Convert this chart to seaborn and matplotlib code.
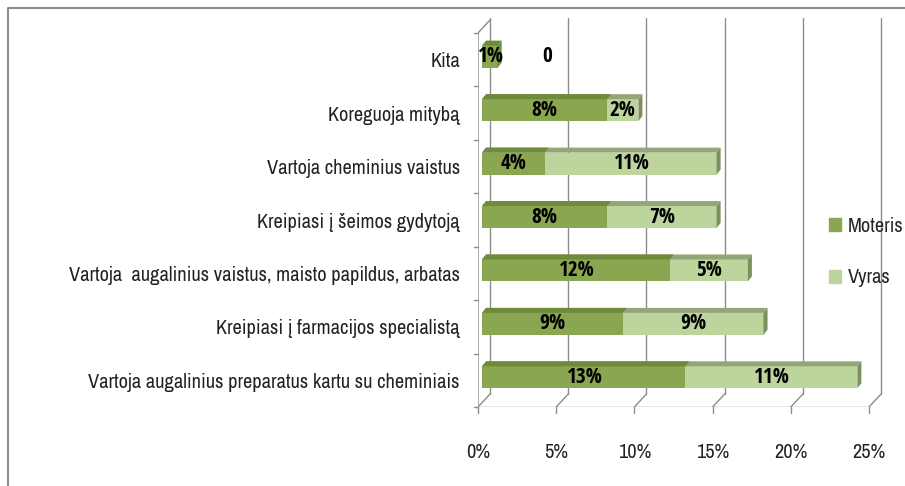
import numpy as np
import pandas as pd
import matplotlib
matplotlib.use("Agg")
import matplotlib.pyplot as plt
import seaborn as sns
from matplotlib import font_manager
from matplotlib.patches import Polygon, Patch
from matplotlib.lines import Line2D

# duomenys (is paveikslo)
categories = [
    "Kita",
    "Koreguoja mitybą",
    "Vartoja cheminius vaistus",
    "Kreipiasi į šeimos gydytoją",
    "Vartoja  augalinius vaistus, maisto papildus, arbatas",
    "Kreipiasi į farmacijos specialistą",
    "Vartoja augalinius preparatus kartu su cheminiais",
]
moteris = [1, 8, 4, 8, 12, 9, 13]
vyras = [0, 2, 11, 7, 5, 9, 11]
x_ticks = [0, 5, 10, 15, 20, 25]
x_tick_labels = ["0%", "5%", "10%", "15%", "20%", "25%"]
series_names = ["Moteris", "Vyras"]

df = pd.DataFrame({"kategorija": categories, "Moteris": moteris, "Vyras": vyras})
df["viso"] = df["Moteris"] + df["Vyras"]

sns.set_theme(style="white")
# narrow fonts (regular + bold) if there are some, else Liberation Sans
ttf = font_manager.fontManager.ttflist
regular = {f.name for f in ttf if f.style == "normal" and f.weight in (400, "normal", "regular", "400")}
bold = {f.name for f in ttf if f.style == "normal" and f.weight in (700, "bold", "700")}
cands = ["Open Sans Condensed", "Archivo Narrow", "Asap Condensed",
         "Liberation Sans Narrow", "Liberation Sans"]
font = next((c for c in cands if c in regular), "DejaVu Sans")
font_b = next((c for c in cands if c in bold), "DejaVu Sans")
plt.rcParams["font.family"] = [font, "DejaVu Sans"]
bfam = [font_b, "DejaVu Sans"]

c_mot, c_mot_top = "#8aa650", "#6e8a3b"
c_vyr, c_vyr_top, c_vyr_side = "#bdd49c", "#94a57a", "#7d8f60"
grid_c = "#8c8c8c"

fig = plt.figure(figsize=(9.05, 4.86), dpi=100)
ax = fig.add_axes([478 / 905, 79 / 486, 406 / 905, 389 / 486])

# font sizes so that text widths are like the reference
r = fig.canvas.get_renderer()
probe = fig.text(0, 0, categories[-1], fontsize=14)
fs = 14 * 368 / probe.get_window_extent(r).width
probe.remove()
probe = fig.text(0, 0, "13%", fontsize=14, fontweight="bold", family=bfam)
fs_val = 14 * 36 / probe.get_window_extent(r).width
probe.remove()

# stacked: total first (Vyras colour), then Moteris over it
sns.barplot(data=df, y="kategorija", x="viso", color=c_vyr, orient="h", width=0.41,
            saturation=1, errorbar=None, ax=ax, zorder=3)
sns.barplot(data=df, y="kategorija", x="Moteris", color=c_mot, orient="h", width=0.41,
            saturation=1, errorbar=None, ax=ax, zorder=4)

xmax = 406 / 15.64
ax.set_xlim(0, xmax)
ax.set_ylim(6.5, -0.5 - 15 / 53.4)

# 3D-ish offsets (data units)
bx, by = 0.256, -0.056      # bar front shift
ddx, ddy = 0.256, -0.094    # bar depth
gdx, gdy = 0.77, -0.243     # wall depth

n = len(categories)
patches = ax.patches
tot_bars = patches[:n]
mot_bars = patches[n:2 * n]
for p in patches:
    p.set_x(p.get_x() + bx)
    p.set_y(p.get_y() + by)
    p.set_linewidth(0)

def top_face(p, color, z):
    x0, y0, w = p.get_x(), p.get_y(), p.get_width()
    pts = [(x0, y0), (x0 + w, y0), (x0 + w + ddx, y0 + ddy), (x0 + ddx, y0 + ddy)]
    ax.add_patch(Polygon(pts, closed=True, color=color, lw=0, zorder=z))

for i, (pt, pm) in enumerate(zip(tot_bars, mot_bars)):
    top_face(pt, c_vyr_top, 3.5)
    top_face(pm, c_mot_top, 4.5)
    x1 = pt.get_x() + pt.get_width()
    y0, y1 = pt.get_y(), pt.get_y() + pt.get_height()
    side_c = c_vyr_side if vyras[i] > 0 else c_mot_top
    ax.add_patch(Polygon([(x1, y0), (x1, y1), (x1 + ddx, y1 + ddy), (x1 + ddx, y0 + ddy)],
                         closed=True, color=side_c, lw=0, zorder=4.6))

# walls / gridlines
y_bot = n - 0.5
y_top = -0.5 - 15 / 53.4
for t in x_ticks:
    ax.plot([t + gdx, t + gdx], [y_top, y_bot + gdy], color=grid_c, lw=1, zorder=1)
    ax.plot([t, t + gdx], [y_bot, y_bot + gdy], color=grid_c, lw=1, zorder=1)
    ax.plot([t, t], [y_bot, y_bot + 0.11], color=grid_c, lw=1, clip_on=False)
ax.plot([0, x_ticks[-1]], [y_bot, y_bot], color=grid_c, lw=1, zorder=2)
ax.plot([0, 0, gdx], [y_bot, -0.5, -0.5 + gdy], color=grid_c, lw=1, zorder=2)
for k in range(n + 1):
    ax.plot([-0.26, 0], [k - 0.5, k - 0.5], color=grid_c, lw=1, clip_on=False)

# value labels
for i in range(n):
    y = i + by
    ax.text(bx + moteris[i] / 2, y, f"{moteris[i]}%", ha="center", va="center",
            fontsize=fs_val, fontweight="bold", family=bfam, color="black", zorder=6)
    if vyras[i] > 0:
        ax.text(bx + moteris[i] + vyras[i] / 2, y, f"{vyras[i]}%", ha="center", va="center",
                fontsize=fs_val, fontweight="bold", family=bfam, color="black", zorder=6)
    else:
        ax.annotate("0", (bx + moteris[i], y), xytext=(36, 0), textcoords="offset points",
                    ha="center", va="center", fontsize=fs_val, fontweight="bold",
                    family=bfam, color="black", zorder=6)

ax.set_xticks(x_ticks)
ax.set_xticklabels(x_tick_labels, fontsize=fs, color="#222222")
ax.set_yticks(range(n))
ax.set_yticklabels(categories, fontsize=fs, color="#222222")
ax.tick_params(axis="x", length=0, pad=26)
ax.tick_params(axis="y", length=0, pad=13)
ax.set_xlabel("")
ax.set_ylabel("")
for s in ax.spines.values():
    s.set_visible(False)
ax.patch.set_alpha(0)

handles = [Patch(color=c_mot), Patch(color=c_vyr)]
fig.legend(handles, series_names, loc="center left", bbox_to_anchor=(819 / 905, 1 - 252 / 486),
           bbox_transform=fig.transFigure, frameon=False, fontsize=fs, handlelength=0.6,
           handleheight=0.6, handletextpad=0.3, labelspacing=1.6, borderpad=0)

# outer frame (left + top only)
fig.add_artist(Line2D([8 / 905, 8 / 905, 1], [0, 1 - 8 / 486, 1 - 8 / 486],
                      transform=fig.transFigure, color=grid_c, lw=1.5))

fig.savefig("out.png", dpi=100)
